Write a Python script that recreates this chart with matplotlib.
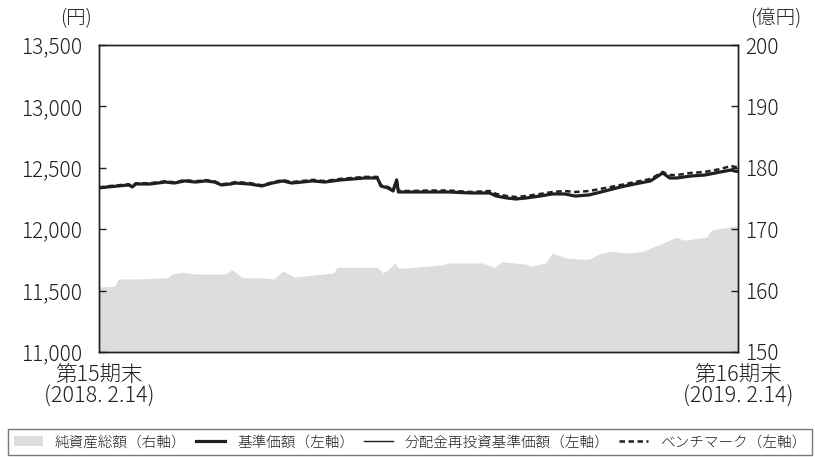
import numpy as np
import matplotlib
matplotlib.use("Agg")
import matplotlib.pyplot as plt
from matplotlib.patches import Patch
from matplotlib.lines import Line2D

plt.rcParams['font.family'] = ['Noto Sans CJK JP', 'DejaVu Sans']
plt.rcParams['font.weight'] = 'light'

INK = '#231f20'
GRAY = '#dcdddd'

# days since 2018-02-14 (period: 2018-02-14 .. 2019-02-14)
line_days = [0, 5, 11, 17, 19, 21, 29, 38, 43, 49, 55, 61, 66, 70, 75, 78, 86, 93,
             99, 105, 110, 116, 122, 129, 138, 145, 152, 159, 161, 165, 168, 170,
             171, 178, 189, 200, 212, 223, 227, 233, 238, 244, 252, 259, 266, 272,
             280, 289, 298, 306, 315, 322, 326, 330, 338, 346, 355, 361, 363, 365]

# 基準価額 (yen)
nav = [12336, 12344, 12352, 12360, 12344, 12368, 12368, 12384, 12376, 12393,
       12384, 12393, 12384, 12360, 12368, 12376, 12368, 12352, 12376, 12393,
       12376, 12384, 12393, 12384, 12401, 12409, 12417, 12417, 12352, 12336,
       12311, 12401, 12303, 12303, 12303, 12303, 12295, 12295, 12270, 12254,
       12246, 12254, 12270, 12287, 12287, 12270, 12279, 12311, 12344, 12368,
       12393, 12458, 12417, 12417, 12433, 12441, 12466, 12482, 12474, 12470]

# 分配金再投資基準価額 (no distributions -> same as nav)
reinvest = list(nav)

# ベンチマーク
bench = [12340, 12350, 12358, 12366, 12350, 12374, 12374, 12390, 12382, 12400,
         12390, 12400, 12390, 12366, 12374, 12384, 12376, 12358, 12382, 12400,
         12384, 12392, 12402, 12392, 12410, 12418, 12426, 12426, 12360, 12344,
         12320, 12401, 12311, 12311, 12315, 12315, 12303, 12311, 12287, 12270,
         12262, 12270, 12287, 12303, 12311, 12303, 12311, 12335, 12360, 12384,
         12409, 12466, 12441, 12441, 12458, 12466, 12490, 12515, 12508, 12505]

# 純資産総額 (100 million yen)
aum_days = [0, 3, 9, 11, 23, 39, 42, 48, 55, 72, 76, 82, 92, 100, 105, 112, 122,
            134, 136, 159, 162, 165, 169, 171, 177, 196, 200, 219, 226, 230, 244,
            247, 255, 259, 267, 277, 280, 286, 293, 301, 311, 315, 330, 334, 347, 350,
            363, 365]
aum = [160.6, 160.6, 160.7, 161.9, 161.9, 162.1, 162.7, 163.0, 162.7, 162.7,
       163.4, 162.1, 162.1, 161.9, 163.2, 162.2, 162.5, 162.9, 163.8, 163.8,
       162.9, 163.4, 164.5, 163.7, 163.7, 164.2, 164.5, 164.5, 163.8, 164.7,
       164.3, 164.0, 164.5, 166.1, 165.3, 165.1, 165.1, 166.0, 166.4, 166.1,
       166.4, 166.9, 168.7, 168.2, 168.7, 169.9, 170.5, 170.4]

fig = plt.figure(figsize=(8.15, 4.57), dpi=100)
ax = fig.add_axes([99/815, 105/457, 639/815, 307/457])
ax2 = ax.twinx()

ax2.fill_between(aum_days, 150, aum, color=GRAY, linewidth=0)
ax2.set_ylim(150, 200)
ax2.set_yticks([150, 160, 170, 180, 190, 200])

ax.set_zorder(ax2.get_zorder() + 1)
ax.patch.set_visible(False)

ax.plot(line_days, nav, color=INK, lw=2.3, zorder=3)
ax.plot(line_days, reinvest, color=INK, lw=1.0, zorder=4)
ax.plot(line_days, bench, color=INK, lw=1.8, ls=(0, (2.2, 1.4)), zorder=5)

ax.set_xlim(0, 365)
ax.set_ylim(11000, 13500)
ax.set_yticks(np.arange(11000, 13501, 500))
ax.set_yticklabels([f'{v:,}' for v in range(11000, 13501, 500)])
ax.set_xticks([])

for a in (ax, ax2):
    for s in a.spines.values():
        s.set_color(INK)
        s.set_linewidth(1.0)
ax.tick_params(axis='y', direction='in', length=5, width=1, color=INK,
               labelsize=15, labelcolor=INK, pad=12)
ax2.tick_params(axis='y', direction='in', length=5, width=1, color=INK,
                labelsize=15, labelcolor=INK, pad=5)

fig.text(76/815, 1 - 19/457, '(円)', ha='center', va='center', fontsize=14, color=INK)
fig.text(776/815, 1 - 19/457, '(億円)', ha='center', va='center', fontsize=14, color=INK)

fig.text(99/815, 1 - 375/457, '第15期末', ha='center', va='center', fontsize=15.5, color=INK)
fig.text(99/815, 1 - 397/457, '(2018. 2.14)', ha='center', va='center', fontsize=15.5, color=INK)
fig.text(738/815, 1 - 375/457, '第16期末', ha='center', va='center', fontsize=15.5, color=INK)
fig.text(738/815, 1 - 397/457, '(2019. 2.14)', ha='center', va='center', fontsize=15.5, color=INK)

handles = [Patch(facecolor=GRAY, edgecolor='none'),
           Line2D([], [], color=INK, lw=2.3),
           Line2D([], [], color=INK, lw=1.0),
           Line2D([], [], color=INK, lw=1.8, ls=(0, (2.2, 1.4)))]
labels = ['純資産総額（右軸）', '基準価額（左軸）', '分配金再投資基準価額（左軸）', 'ベンチマーク（左軸）']
leg = fig.legend(handles, labels, ncol=4, loc='lower left',
                 bbox_to_anchor=(8/815, 2/457, 804/815, 37/457), mode='expand',
                 frameon=True, fancybox=False, fontsize=10.5, handlelength=2.0,
                 handletextpad=0.8, borderaxespad=0, labelcolor=INK)
leg.get_frame().set_edgecolor('#595757')
leg.get_frame().set_linewidth(1.0)

fig.savefig('out.png', dpi=100)
